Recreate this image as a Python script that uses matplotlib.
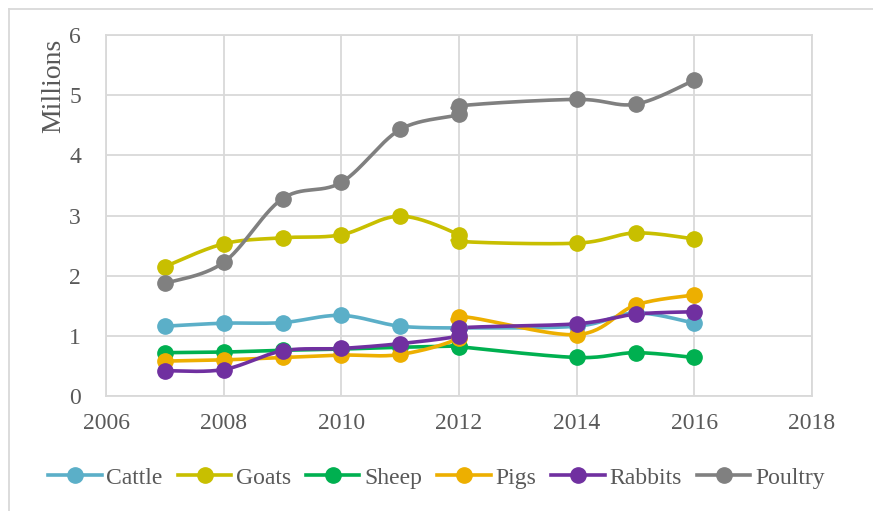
import numpy as np
import matplotlib.pyplot as plt
from matplotlib.lines import Line2D

plt.rcParams['font.family'] = ['Liberation Serif', 'DejaVu Serif']

years = [2007, 2008, 2009, 2010, 2011, 2012, 2012, 2014, 2015, 2016]
cattle = [1.16, 1.21, 1.22, 1.34, 1.16, 1.13, 1.13, 1.16, 1.38, 1.21]
goats = [2.15, 2.53, 2.63, 2.68, 2.99, 2.68, 2.57, 2.54, 2.71, 2.61]
sheep = [0.72, 0.73, 0.76, 0.78, 0.81, 0.83, 0.82, 0.64, 0.72, 0.64]
pigs = [0.58, 0.60, 0.64, 0.68, 0.69, 0.97, 1.32, 1.02, 1.51, 1.68]
rabbits = [0.42, 0.44, 0.75, 0.79, 0.87, 1.00, 1.13, 1.20, 1.36, 1.40]
poultry = [1.87, 2.22, 3.28, 3.55, 4.43, 4.68, 4.82, 4.93, 4.85, 5.25]

names = ["Cattle", "Goats", "Sheep", "Pigs", "Rabbits", "Poultry"]
series = [cattle, goats, sheep, pigs, rabbits, poultry]
colors = ["#5BAFC8", "#C8BF00", "#00B050", "#EDAF00", "#7030A0", "#808080"]


def smooth(x, y, n=30):
    # bezier segments with catmull-rom style tangents
    p = np.column_stack([x, y]).astype(float)
    pts = np.vstack([p[0], p, p[-1]])
    out = []
    t = np.linspace(0, 1, n)[:, None]
    for i in range(1, len(pts) - 2):
        p0, p1, p2, p3 = pts[i - 1], pts[i], pts[i + 1], pts[i + 2]
        c1 = p1 + (p2 - p0) / 6
        c2 = p2 - (p3 - p1) / 6
        seg = (1 - t) ** 3 * p1 + 3 * (1 - t) ** 2 * t * c1 + 3 * (1 - t) * t ** 2 * c2 + t ** 3 * p2
        out.append(seg)
    out = np.vstack(out)
    return out[:, 0], out[:, 1]


fig = plt.figure(figsize=(8.73, 5.11), dpi=100)
ax = fig.add_axes([106 / 873, 1 - 396 / 511, (812 - 106) / 873, (396 - 35) / 511])

handles = []
for name, vals, c in zip(names, series, colors):
    sx, sy = smooth(years, vals)
    ax.plot(sx, sy, color=c, lw=2.6, solid_capstyle="round", zorder=3)
    ax.plot(years, vals, "o", color=c, ms=11, zorder=4)
    handles.append(Line2D([], [], color=c, lw=2.6, marker="o", ms=11, label=name))

ax.set_xlim(2006, 2018)
ax.set_ylim(0, 6)
ax.set_xticks(range(2006, 2019, 2))
ax.set_yticks(range(0, 7))
ax.grid(True, color="#d9d9d9", lw=1.3)
ax.set_axisbelow(True)
for s in ax.spines.values():
    s.set_color("#d9d9d9")
    s.set_linewidth(1.3)
ax.tick_params(length=0, labelsize=17, colors="#595959")
ax.tick_params(axis="y", pad=18)
ax.tick_params(axis="x", pad=12)
# display-units label sits at the top of the value axis
ax.set_ylabel("Millions", fontsize=20, color="#595959")
ax.yaxis.set_label_coords(-0.057, 0.86)

fig.legend(handles=handles, loc="center", bbox_to_anchor=(0.5, 1 - 478 / 511),
           ncol=6, frameon=False, fontsize=17, labelcolor="#595959",
           handlelength=2.25, handletextpad=0.2, columnspacing=0.65)

# outer chart border
fig.add_artist(Line2D([9 / 873, 1], [1 - 9 / 511, 1 - 9 / 511], color="#d9d9d9", lw=1.3))
fig.add_artist(Line2D([9 / 873, 9 / 873], [0, 1 - 9 / 511], color="#d9d9d9", lw=1.3))

fig.savefig("out.png", dpi=100)
